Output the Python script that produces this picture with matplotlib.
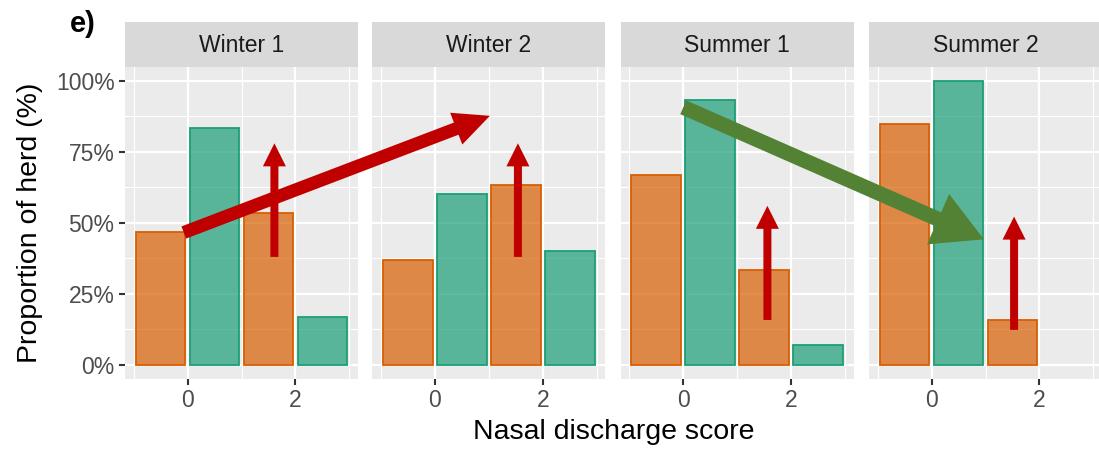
import numpy as np
import matplotlib
matplotlib.use('Agg')
import matplotlib.pyplot as plt
from matplotlib.patches import FancyArrow

plt.rcParams['font.family'] = ['Liberation Sans', 'DejaVu Sans']

# Data
seasons = ['Winter 1', 'Winter 2', 'Summer 1', 'Summer 2']
bin_centres = [-0.5, 0.5, 1.5, 2.5]
winter1 = [0.467, 0.833, 0.533, 0.167]
winter2 = [0.37, 0.60, 0.635, 0.40]
summer1 = [0.667, 0.933, 0.335, 0.07]
summer2 = [0.848, 1.0, 0.157, 0.0]
x_ticks = [0, 2]
y_ticks = [0, 0.25, 0.5, 0.75, 1.0]
y_labels = ['0%', '25%', '50%', '75%', '100%']

# Overlay arrows in panel data units
red_small = [(0, 1.61, 0.38, 0.78), (1, 1.54, 0.38, 0.78),
             (2, 1.56, 0.158, 0.56), (3, 1.53, 0.123, 0.522)]
red_big = (0, -0.07, 0.466, 1, 1.02, 0.877)
green_big = (2, 0.0, 0.907, 3, 0.97, 0.442)

orange = '#D95F02'
green = '#1B9E77'
bar_cols = [orange, green, orange, green]

W, H = 1099, 449
fig = plt.figure(figsize=(W / 100, H / 100), dpi=100)
fig.patch.set_facecolor('white')

lefts = [125, 372.3, 620.7, 869]
pw = 233
p_bot, p_top = 379, 66.7
s_top = 21.7

axes = []
for i, (season, vals) in enumerate(zip(seasons, [winter1, winter2, summer1, summer2])):
    ax = fig.add_axes([lefts[i] / W, (H - p_bot) / H, pw / W, (p_bot - p_top) / H])
    ax.set_facecolor('#EBEBEB')
    for xc, v, c in zip(bin_centres, vals, bar_cols):
        if v > 0:
            ax.bar(xc, v, width=0.92, facecolor=c, alpha=0.7, edgecolor='none', zorder=2)
            ax.bar(xc, v, width=0.92, facecolor='none', edgecolor=c, linewidth=1.3, zorder=3)
    ax.set_xlim(-1.16, 3.16)
    ax.set_ylim(-0.05, 1.05)
    ax.set_xticks(x_ticks)
    ax.set_xticks([-1, 1, 3], minor=True)
    ax.set_yticks(y_ticks)
    ax.set_yticks([0.125, 0.375, 0.625, 0.875], minor=True)
    ax.grid(which='major', color='white', linewidth=1.6, zorder=0)
    ax.grid(which='minor', color='white', linewidth=0.8, zorder=0)
    ax.set_axisbelow(True)
    for sp in ax.spines.values():
        sp.set_visible(False)
    ax.tick_params(which='minor', length=0)
    ax.tick_params(axis='x', which='major', length=4.5, width=1.5, color='#333333',
                   labelsize=16.5, labelcolor='#4D4D4D', pad=3)
    if i == 0:
        ax.set_yticklabels(y_labels)
        ax.tick_params(axis='y', which='major', length=4.5, width=1.5, color='#333333',
                       labelsize=16.5, labelcolor='#4D4D4D', pad=3)
    else:
        ax.tick_params(axis='y', which='major', length=0, labelleft=False)
    axes.append(ax)

    sax = fig.add_axes([lefts[i] / W, (H - p_top) / H, pw / W, (p_top - s_top) / H])
    sax.set_facecolor('#D9D9D9')
    sax.set_xticks([])
    sax.set_yticks([])
    for sp in sax.spines.values():
        sp.set_visible(False)
    sax.text(0.5, 0.47, season, ha='center', va='center', fontsize=16.5, color='#1A1A1A',
             transform=sax.transAxes)

fig.text(613.5 / W, (H - 432) / H, 'Nasal discharge score', ha='center', va='center',
         fontsize=20.5, color='black')
fig.text(30 / W, (H - 223) / H, 'Proportion of herd (%)', ha='center', va='center',
         rotation=90, fontsize=20.5, color='black')
fig.text(70 / W, (H - 32) / H, 'e)', ha='left', va='baseline', fontsize=21,
         fontweight='bold', color='black')

# overlay in pixel units for the arrows
ov = fig.add_axes([0, 0, 1, 1], zorder=10)
ov.set_xlim(0, W)
ov.set_ylim(0, H)
ov.axis('off')
ov.patch.set_alpha(0)


def to_px(panel, x, y):
    return axes[panel].transData.transform((x, y))


def arrow(p0, p1, color, shaft, hw, hl):
    dx, dy = p1[0] - p0[0], p1[1] - p0[1]
    ov.add_patch(FancyArrow(p0[0], p0[1], dx, dy, width=shaft, head_width=hw,
                            head_length=hl, length_includes_head=True,
                            facecolor=color, edgecolor='none'))


for panel, x, y0, y1 in red_small:
    arrow(to_px(panel, x, y0), to_px(panel, x, y1), '#C00000', 8, 23, 23)

arrow(to_px(red_big[0], red_big[1], red_big[2]), to_px(red_big[3], red_big[4], red_big[5]),
      '#C00000', 13, 34, 36)
arrow(to_px(green_big[0], green_big[1], green_big[2]),
      to_px(green_big[3], green_big[4], green_big[5]), '#548235', 15, 55, 50)

fig.savefig('out.png', dpi=100)
